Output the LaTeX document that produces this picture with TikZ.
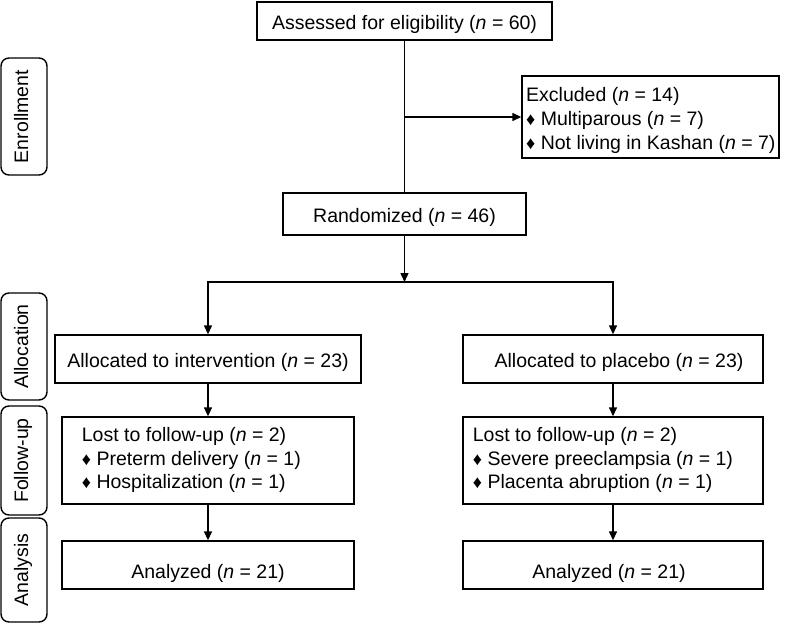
\documentclass[tikz,border=0pt]{standalone}
\usepackage{fontspec}
\setmainfont{Liberation Sans}
\usetikzlibrary{arrows.meta}
\newcommand{\dia}{{\fontsize{18}{18}\selectfont ♦}}
\begin{document}
\begin{tikzpicture}[x=1pt,y=-1pt,
  every node/.style={font=\fontsize{19.5}{24}\selectfont},
  box/.style={draw, line width=1.4pt, inner sep=0pt, text height=16pt, text depth=0pt},
  side/.style={draw, rounded corners=8pt, line width=1.4pt, rotate=90, inner sep=0pt, text height=8pt, text depth=0pt},
  txt/.style={anchor=base west, inner sep=0pt},
  arr/.style={-{Triangle[length=9pt,width=8pt]}, line width=1.4pt},
  ln/.style={line width=1.4pt}]
\useasboundingbox (0,0) rectangle (796,624);

% side labels
\node[side, minimum width=117, minimum height=46] (enr) at (24,116.5) {Enrollment};
\node[side, minimum width=107, minimum height=46] (alo) at (24,346.5) {Allocation};
\node[side, minimum width=109, minimum height=46] (fol) at (24,460.5) {Follow-up};
\node[side, minimum width=104, minimum height=46] (ana) at (24,570) {Analysis};

% boxes
\node[box, minimum width=295, minimum height=38] (assess) at (404.5,21) {Assessed for eligibility (\textit{n} = 60)};
\node[box, minimum width=257, minimum height=82] (excl) at (650.5,117) {};
\node[txt] (exclA) at (526,101.7) {Excluded (\textit{n} = 14)};
\node[txt] (exclB) at (526,125.7) {\dia\ Multiparous (\textit{n} = 7)};
\node[txt] (exclC) at (526,149.5) {\dia\ Not living in Kashan (\textit{n} = 7)};

\node[box, minimum width=243, minimum height=42] (rand) at (404.5,214) {Randomized (\textit{n} = 46)};

\node[box, minimum width=306, minimum height=48] (al1) at (208,359) {Allocated to intervention (\textit{n} = 23)};
\node[box, minimum width=300, minimum height=48] (al2) at (613,359) {\hspace*{12pt}Allocated to placebo (\textit{n} = 23)};

\node[box, minimum width=292, minimum height=87] (fu1) at (208,460.5) {};
\node[txt] (fu1A) at (81.7,441.7) {Lost to follow-up (\textit{n} = 2)};
\node[txt] (fu1B) at (81.7,465) {\dia\ Preterm delivery (\textit{n} = 1)};
\node[txt] (fu1C) at (81.7,488.3) {\dia\ Hospitalization (\textit{n} = 1)};

\node[box, minimum width=300, minimum height=87] (fu2) at (613,460.5) {};
\node[txt] (fu2A) at (472.7,441.7) {Lost to follow-up (\textit{n} = 2)};
\node[txt] (fu2B) at (472.7,465) {\dia\ Severe preeclampsia (\textit{n} = 1)};
\node[txt] (fu2C) at (472.7,488.3) {\dia\ Placenta abruption (\textit{n} = 1)};

\node[box, minimum width=292, minimum height=48, text height=27pt] (an1) at (208,565) {Analyzed (\textit{n} = 21)};
\node[box, minimum width=300, minimum height=48, text height=27pt] (an2) at (613,565) {\hspace*{-8pt}Analyzed (\textit{n} = 21)};

% connectors
\draw[ln] (assess.south) -- (rand.north);
\coordinate (ex) at (assess.south |- excl.west);
\draw[arr] (ex) -- (excl.west);
\coordinate (split) at (404.5,282);
\draw[arr] (rand.south) -- (split);
\draw[arr] (split) -| (al1.north);
\draw[arr] (split) -| (al2.north);
\draw[arr] (al1.south) -- (fu1.north);
\draw[arr] (al2.south) -- (fu2.north);
\draw[arr] (fu1.south) -- (an1.north);
\draw[arr] (fu2.south) -- (an2.north);
\end{tikzpicture}
\end{document}
